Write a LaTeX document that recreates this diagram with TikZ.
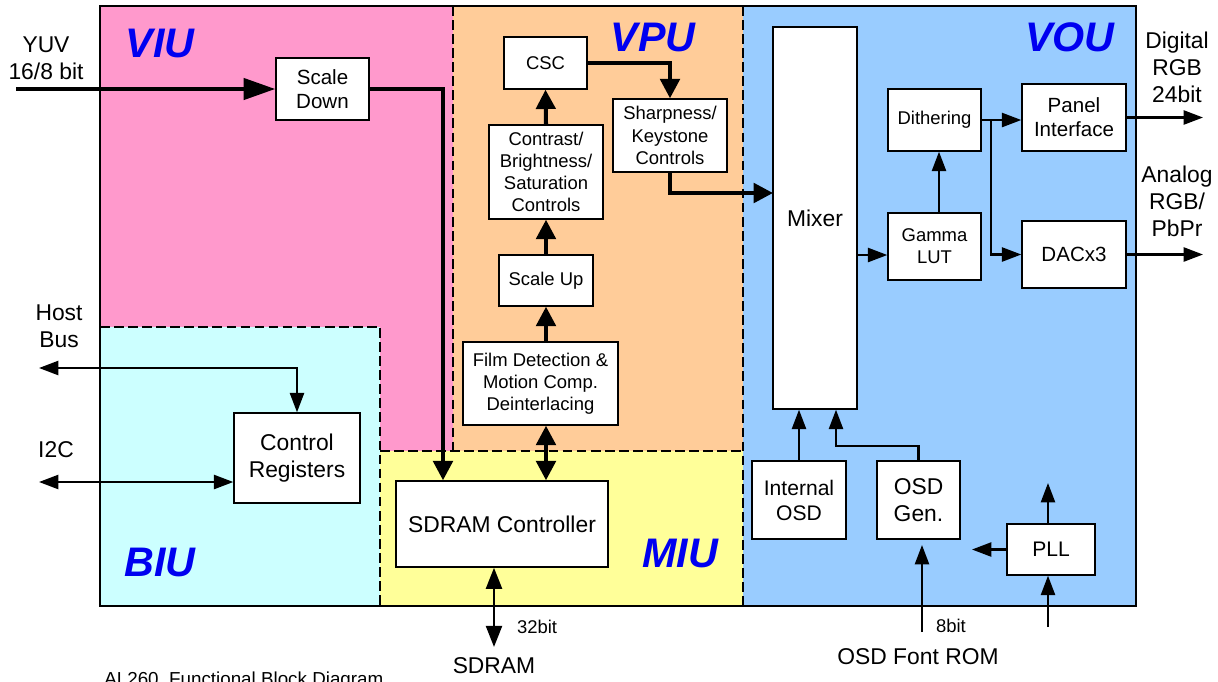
\documentclass[tikz,border=0pt]{standalone}
\usepackage{fontspec}
\setmainfont{Liberation Sans}
\usepackage{tikz}
\usetikzlibrary{arrows.meta}
\usepackage{xcolor}
\definecolor{viupink}{RGB}{255,153,204}
\definecolor{vpuorange}{RGB}{255,204,153}
\definecolor{voublue}{RGB}{153,204,255}
\definecolor{biucyan}{RGB}{204,255,255}
\definecolor{miuyellow}{RGB}{255,255,153}
\definecolor{unitblue}{RGB}{0,0,240}

\begin{document}
\begin{tikzpicture}[x=0.02cm,y=-0.02cm,
		blk/.style={draw,fill=white,line width=0.8pt,align=center,inner sep=0pt,
			font=\fontsize{10.5}{12.6}\selectfont},
		box/.style 2 args={blk,minimum width=#1*0.02cm,minimum height=#2*0.02cm},
		bigtxt/.style={font=\fontsize{13}{15.5}\selectfont},
		midtxt/.style={font=\fontsize{11.7}{13.8}\selectfont},
		lbl/.style={align=center,inner sep=0pt,font=\fontsize{13}{15.5}\selectfont},
		smalllbl/.style={inner sep=0pt,font=\fontsize{10.5}{12}\selectfont},
		unit/.style={inner sep=0pt,text=unitblue,font=\fontsize{23.5}{26}\selectfont\bfseries\itshape},
		divline/.style={line width=0.8pt,dash pattern=on 5.5pt off 2.5pt},
		sig/.style={line width=1.25pt,-{Triangle[length=11pt,width=8pt]}},
		sigboth/.style={line width=1.25pt,{Triangle[length=11pt,width=8pt]}-{Triangle[length=11pt,width=8pt]}},
		wide/.style={line width=2.3pt,-{Triangle[length=11pt,width=11pt]}},
		wideboth/.style={line width=2.3pt,{Triangle[length=11pt,width=11pt]}-{Triangle[length=11pt,width=11pt]}},
		membus/.style={line width=1.6pt,{Triangle[length=12pt,width=9pt]}-{Triangle[length=12pt,width=9pt]}}]
		\useasboundingbox (0,0) rectangle (1218,681);
		
		\fill[viupink] (100,6) -- (453,6) -- (453,451) -- (380,451) -- (380,327) -- (100,327) -- cycle;
		\fill[vpuorange] (453,6) rectangle (743,451);
		\fill[voublue] (743,6) rectangle (1136,606);
		\fill[biucyan] (100,327) rectangle (380,606);
		\fill[miuyellow] (380,451) rectangle (743,606);
		\draw[divline] (453,6) -- (453,451);
		\draw[divline] (380,451) -- (743,451);
		\draw[divline] (743,6) -- (743,606);
		\draw[divline] (100,327) -- (380,327) -- (380,606);
		\draw[line width=1.1pt] (100,6) rectangle (1136,606);
		
		\node[unit] (viu) at (160,43) {VIU};
		\node[unit] (vpu) at (653,37) {VPU};
		\node[unit] (vou) at (1070,37) {VOU};
		\node[unit] (biu) at (160,562) {BIU};
		\node[unit] (miu) at (680,553) {MIU};
		
		\node[box={93}{62},midtxt] (sdown) at (322.5,89) {Scale\\Down};
		\node[box={83}{52}] (csc) at (545.5,63) {CSC};
		\node[box={114}{94}] (cbs) at (546,172) {Contrast/\\Brightness/\\Saturation\\Controls};
		\node[box={114}{73}] (sharp) at (670,135.5) {Sharpness/\\Keystone\\Controls};
		\node[box={94}{51}] (sup) at (546,280.5) {Scale Up};
		\node[box={155}{83}] (film) at (540.5,383.5) {Film Detection \&\\Motion Comp.\\Deinterlacing};
		\node[box={84}{382},bigtxt] (mixer) at (815,218) {Mixer};
		\node[box={93}{62}] (dith) at (934.5,120) {Dithering};
		\node[box={93}{67}] (gamma) at (934.5,246.5) {Gamma\\LUT};
		\node[box={104}{67},midtxt] (panel) at (1074,117.5) {Panel\\Interface};
		\node[box={104}{67},midtxt] (dac) at (1074,254.5) {DACx3};
		\node[box={94}{78},font=\fontsize{12}{14.2}\selectfont] (iosd) at (799,500) {Internal\\OSD};
		\node[box={83}{78},bigtxt] (osdgen) at (918.5,500) {OSD\\Gen.};
		\node[box={88}{51},font=\fontsize{12}{14.2}\selectfont] (pll) at (1051,549.5) {PLL};
		\node[box={126}{90},bigtxt] (ctrl) at (297,458) {Control\\Registers};
		\node[box={212}{86},bigtxt] (sdram) at (502,524) {SDRAM Controller};
		
		\node[lbl] (yuv) at (46,58.5) {YUV\\16/8 bit};
		\node[lbl] (host) at (59,326) {Host\\Bus};
		\node[lbl] (i2clbl) at (56,450) {I2C};
		\node[lbl] (digital) at (1177,67.5) {Digital\\RGB\\24bit};
		\node[lbl] (analog) at (1177,201.5) {Analog\\RGB/\\PbPr};
		\node[smalllbl] (bit32) at (537,627) {32bit};
		\node[smalllbl] (bit8) at (951,626) {8bit};
		\node[lbl] (sdramext) at (494,666) {SDRAM};
		\node[lbl] (fontrom) at (918,657) {OSD Font ROM};
		\node[anchor=base west,inner sep=0pt,font=\fontsize{10.7}{12}\selectfont] (caption) at (104,685.5) {AL260\ \ Functional Block Diagram};
		
		\coordinate (yuvin) at (16,89);
		\coordinate (viubend) at (443,89);
		\coordinate (mixin) at (773,193);
		\coordinate (mixout) at (857,255);
		\coordinate (split) at (991,120);
		\coordinate (digout) at (1203,117.5);
		\coordinate (anaout) at (1203,254.5);
		\coordinate (lutup) at (939,0);
		\coordinate (osdbend) at (836,446);
		\coordinate (romin) at (922,632);
		\coordinate (plltop) at (1048,483);
		\coordinate (pllleft) at (972,549.5);
		\coordinate (pllin) at (1048,627);
		\coordinate (hostbus) at (39,368);
		\coordinate (i2c) at (39,482);
		\coordinate (sdrambus) at (494,647);
		
		\draw[wide,-{Triangle[length=18pt,width=12pt]}] (yuvin) -- (sdown.west);
		\draw[wide] (sdown.east) -- (viubend) -- (viubend |- sdram.north);
		\draw[wide] (sup.south |- film.north) -- (sup.south);
		\draw[wide] (sup.north) -- (cbs.south);
		\draw[wide] (cbs.north) -- (csc.south);
		\draw[wide] (csc.east) -| (sharp.north);
		\draw[wide] (sharp.south) |- (mixin);
		\draw[wideboth] (sup.south |- film.south) -- (sup.south |- sdram.north);
		
		\draw[sig] (mixout) -- (mixout -| gamma.west);
		\draw[sig] (lutup |- gamma.north) -- (lutup |- dith.south);
		\draw[sig] (dith.east) -- (dith.east -| panel.west);
		\draw[sig] (split) |- (dac.west);
		\draw[sig] (panel.east) -- (digout);
		\draw[sig] (dac.east) -- (anaout);
		\draw[sig] (iosd.north) -- (iosd.north |- mixer.south);
		\draw[sig] (osdgen.north) |- (osdbend) -- (osdbend |- mixer.south);
		\draw[sig,shorten >=3pt] (romin) -- (romin |- osdgen.south);
		\draw[sig] (pll.north -| plltop) -- (plltop);
		\draw[sig] (pll.west) -- (pllleft);
		\draw[sig] (pllin) -- (pllin |- pll.south);
		\draw[sigboth] (hostbus) -| (ctrl.north);
		\draw[sigboth] (i2c) -- (i2c -| ctrl.west);
		\draw[membus] (sdrambus |- sdram.south) -- (sdrambus);
	\end{tikzpicture}
\end{document}
